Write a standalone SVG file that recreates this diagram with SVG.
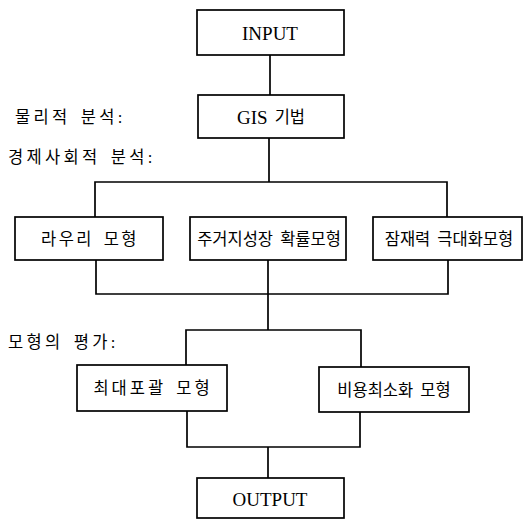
<svg xmlns="http://www.w3.org/2000/svg" width="528" height="520" viewBox="0 0 528 520">
<style>
.box{fill:#fff;stroke:#000;stroke-width:1.7}
.ln{fill:none;stroke:#000;stroke-width:1.7}
text{font-family:"Liberation Serif","Noto Sans CJK KR",serif;font-size:16.5px;fill:#000;word-spacing:3px}
.c{text-anchor:middle;dominant-baseline:central}
.l{dominant-baseline:central;letter-spacing:3.3px}
.en{font-size:19px}
</style>
<rect width="528" height="520" fill="#fff"/>
<g id="connectors">
<path class="ln" d="M270,55V95"/>
<path class="ln" d="M269,138V182M95,217V182H447V217"/>
<path class="ln" d="M96,260V294H448V260M268,260V330"/>
<path class="ln" d="M186,365V330H361V367"/>
<path class="ln" d="M187,411V447H360V412M268,447V478"/>
</g>
<g id="input"><rect class="box" x="197" y="10" width="147" height="45"/><text class="c en" x="270" y="33">INPUT</text></g>
<g id="gis"><rect class="box" x="198" y="95" width="146" height="43"/><text class="c" x="271" y="117"><tspan class="en">GIS</tspan> 기법</text></g>
<g id="label-physical"><text class="l" x="15" y="117">물리적 분석:</text></g>
<g id="label-socio"><text class="l" x="8" y="157">경제사회적 분석:</text></g>
<g id="lowry"><rect class="box" x="15" y="217" width="148" height="43"/><text class="c" x="90" y="239" letter-spacing="2.5">라우리 모형</text></g>
<g id="residential"><rect class="box" x="190" y="217" width="156" height="43"/><text class="c" x="269" y="239">주거지성장 확률모형</text></g>
<g id="potential"><rect class="box" x="373" y="217" width="149" height="43"/><text class="c" x="449" y="239">잠재력 극대화모형</text></g>
<g id="label-eval"><text class="l" x="8" y="342" letter-spacing="5.5">모형의 평가:</text></g>
<g id="maxcover"><rect class="box" x="77" y="365" width="150" height="46"/><text class="c" x="153" y="388" letter-spacing="3">최대포괄 모형</text></g>
<g id="mincost"><rect class="box" x="319" y="367" width="150" height="45"/><text class="c" x="394" y="390">비용최소화 모형</text></g>
<g id="output"><rect class="box" x="197" y="478" width="147" height="40"/><text class="c en" x="270" y="499">OUTPUT</text></g>
</svg>
